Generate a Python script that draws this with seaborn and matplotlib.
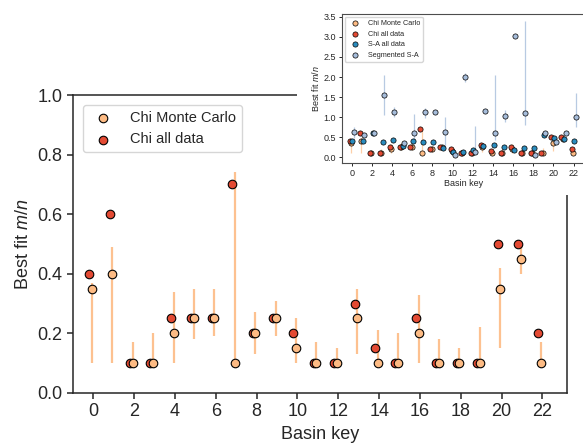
import numpy as np
import pandas as pd
import matplotlib
matplotlib.use("Agg")
import matplotlib.pyplot as plt
from matplotlib.patches import Rectangle
import seaborn as sns

# basin keys and best fit m/n values
basins = list(range(23))
chi_all = [0.4, 0.6, 0.1, 0.1, 0.25, 0.25, 0.25, 0.7, 0.2, 0.25, 0.2, 0.1,
           0.1, 0.3, 0.15, 0.1, 0.25, 0.1, 0.1, 0.1, 0.5, 0.5, 0.2]
chi_mc = [0.35, 0.4, 0.1, 0.1, 0.2, 0.25, 0.25, 0.1, 0.2, 0.25, 0.15, 0.1,
          0.1, 0.25, 0.1, 0.1, 0.2, 0.1, 0.1, 0.1, 0.35, 0.45, 0.1]
chi_mc_lo = [0.1, 0.1, 0.1, 0.1, 0.1, 0.18, 0.19, 0.1, 0.13, 0.19, 0.1, 0.1,
             0.1, 0.13, 0.1, 0.1, 0.1, 0.1, 0.1, 0.1, 0.15, 0.4, 0.1]
chi_mc_hi = [0.37, 0.49, 0.17, 0.2, 0.34, 0.35, 0.35, 0.74, 0.27, 0.31, 0.25, 0.17,
             0.15, 0.35, 0.21, 0.2, 0.33, 0.18, 0.15, 0.22, 0.42, 0.5, 0.17]
sa_all = [0.4, 0.41, 0.6, 0.37, 0.42, 0.27, 0.41, 0.39, 0.39, 0.22, 0.12, 0.13,
          0.19, 0.27, 0.3, 0.26, 0.17, 0.23, 0.24, 0.56, 0.49, 0.46, 0.41]
sa_seg = [0.64, 0.56, 0.61, 1.56, 1.14, 0.36, 0.61, 1.13, 1.14, 0.64, 0.05, 2.0,
          0.12, 1.15, 0.61, 1.03, 3.03, 1.11, 0.06, 0.61, 0.39, 0.6, 1.0]
sa_seg_lo = [0.47, np.nan, np.nan, 1.05, 1.01, np.nan, 0.43, 0.99, np.nan, 0.27, np.nan, 1.88,
             0.1, np.nan, 0.43, 0.89, np.nan, 0.8, np.nan, np.nan, np.nan, np.nan, 0.76]
sa_seg_hi = [0.76, np.nan, np.nan, 2.06, 1.26, np.nan, 1.08, 1.24, np.nan, 1.01, np.nan, 2.11,
             0.78, np.nan, 2.05, 1.18, np.nan, 3.4, np.nan, np.nan, np.nan, np.nan, 1.59]

df = pd.DataFrame({"basin": basins, "chi_all": chi_all, "chi_mc": chi_mc,
                   "mc_lo": chi_mc_lo, "mc_hi": chi_mc_hi, "sa_all": sa_all,
                   "sa_seg": sa_seg, "seg_lo": sa_seg_lo, "seg_hi": sa_seg_hi})

c_mc, c_chi, c_sa, c_seg = "#fdbb84", "#e34a33", "#2b8cbe", "#a6bddb"
off = {"chi_all": -0.2, "chi_mc": -0.07, "sa_all": 0.07, "sa_seg": 0.22}

sns.set_style("ticks")
plt.rcParams["font.family"] = ["Liberation Sans", "DejaVu Sans"]
plt.rcParams["mathtext.fontset"] = "custom"
plt.rcParams["mathtext.it"] = "Liberation Sans:italic"
plt.rcParams["mathtext.rm"] = "Liberation Sans"

fig = plt.figure(figsize=(5.83, 4.45), dpi=100)

# main plot
ax = fig.add_axes([0.125, 0.117, 0.8475, 0.6695])
ax.set_zorder(0)
ax.vlines(df["basin"] + off["chi_mc"], df["mc_lo"], df["mc_hi"],
          color=c_mc, lw=1.6, alpha=0.9, zorder=1)
sns.scatterplot(x=df["basin"] + off["chi_mc"], y=df["chi_mc"], color=c_mc,
                edgecolor="black", linewidth=0.8, s=38, zorder=3,
                label="Chi Monte Carlo", ax=ax)
sns.scatterplot(x=df["basin"] + off["chi_all"], y=df["chi_all"], color=c_chi,
                edgecolor="black", linewidth=0.8, s=38, zorder=2,
                label="Chi all data", ax=ax)
ax.set_xlim(-1, 23.2)
ax.set_ylim(0, 1.0)
ax.set_xticks(range(0, 23, 2))
ax.set_yticks(np.arange(0, 1.01, 0.2))
ax.set_yticklabels([f"{v:.1f}" for v in np.arange(0, 1.01, 0.2)])
ax.tick_params(labelsize=13, length=4, width=1.1)
for sp in ax.spines.values():
    sp.set_linewidth(1.1)
ax.set_xlabel("Basin key", fontsize=13)
ax.set_ylabel("Best fit $m/n$", fontsize=13)
ax.legend(loc="upper left", fontsize=10.5, borderaxespad=0.7)

# white patch behind inset
fig.add_artist(Rectangle((0.509, 0.562), 0.6, 0.5, transform=fig.transFigure,
                         facecolor="white", edgecolor="none", zorder=1))

# inset plot
ins = fig.add_axes([0.586, 0.633, 0.4185, 0.3355])
ins.set_zorder(2)
ins.vlines(df["basin"] + off["chi_mc"], df["mc_lo"], df["mc_hi"],
           color=c_mc, lw=0.9, alpha=0.7, zorder=1)
seg = df.dropna(subset=["seg_lo"])
ins.vlines(seg["basin"] + off["sa_seg"], seg["seg_lo"], seg["seg_hi"],
           color=c_seg, lw=0.9, alpha=0.8, zorder=1)
for col, c, lab in [("chi_mc", c_mc, "Chi Monte Carlo"), ("chi_all", c_chi, "Chi all data"),
                    ("sa_all", c_sa, "S-A all data"), ("sa_seg", c_seg, "Segmented S-A")]:
    sns.scatterplot(x=df["basin"] + off[col], y=df[col], color=c, edgecolor="black",
                    linewidth=0.5, s=14, zorder=3, label=lab, ax=ins)
ins.set_xlim(-1, 23.2)
ins.set_ylim(-0.15, 3.57)
ins.set_xticks(range(0, 23, 2))
ins.set_yticks(np.arange(0, 3.51, 0.5))
ins.tick_params(labelsize=6.5, length=2.5, width=0.7, pad=1.5)
for sp in ins.spines.values():
    sp.set_linewidth(0.8)
    sp.set_color("0.3")
ins.set_xlabel("Basin key", fontsize=6.5, labelpad=1)
ins.set_ylabel("Best fit $m/n$", fontsize=6.5, labelpad=2)
ins.legend(loc="upper left", fontsize=5.2, borderaxespad=0.4)

fig.savefig("out.png", dpi=100)
